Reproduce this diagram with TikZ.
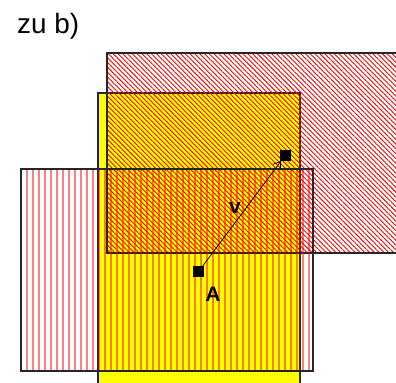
\documentclass[tikz,border=0pt]{standalone}
\usepackage{fontspec}
\setmainfont{Liberation Sans}
\usetikzlibrary{arrows.meta,patterns.meta}
\definecolor{boxyellow}{HTML}{FFFF00}
\tikzset{
  frame/.style={draw=black!85,line width=1.1bp},
  hatchbox/.style={frame,pattern={Lines[angle=-45,distance=3.4bp,line width=0.9bp]},pattern color=red},
  stripe/.style={red,opacity=0.5,line width=2.4bp},
  point/.style={fill=black,inner sep=0pt,minimum size=10.5bp},
  lbl/.style={font=\bfseries\fontsize{21}{24}\selectfont},
}
\begin{document}
\begin{tikzpicture}[x=1bp,y=-1bp]
\useasboundingbox (0,0) rectangle (396,383);
\clip (0,0) rectangle (396,383);
\node[anchor=base west,inner sep=0pt,font=\fontsize{28}{32}\selectfont] (title) at (17,33) {zu b)};
% yellow box
\draw[frame,fill=boxyellow] (98,93) rectangle (300,395);
% hatched box
\draw[hatchbox] (107,53) rectangle (405,253);
% striped box
\begin{scope}
  \clip (21,169) rectangle (313,371);
  \foreach \x in {27,33,...,311}
    \draw[stripe] (\x,169) -- (\x,371);
\end{scope}
\draw[frame] (21,169) rectangle (313,371);
% vector
\node[point] (a) at (198.5,271.7) {};
\node[point] (b) at (285.3,155.3) {};
\draw[line width=0.8bp,-{Straight Barb[length=7bp,width=9bp]}] (a) -- (b);
\node[lbl] (vlabel) at (235,208) {v};
\node[lbl] (alabel) at (213,294) {A};
\end{tikzpicture}
\end{document}
